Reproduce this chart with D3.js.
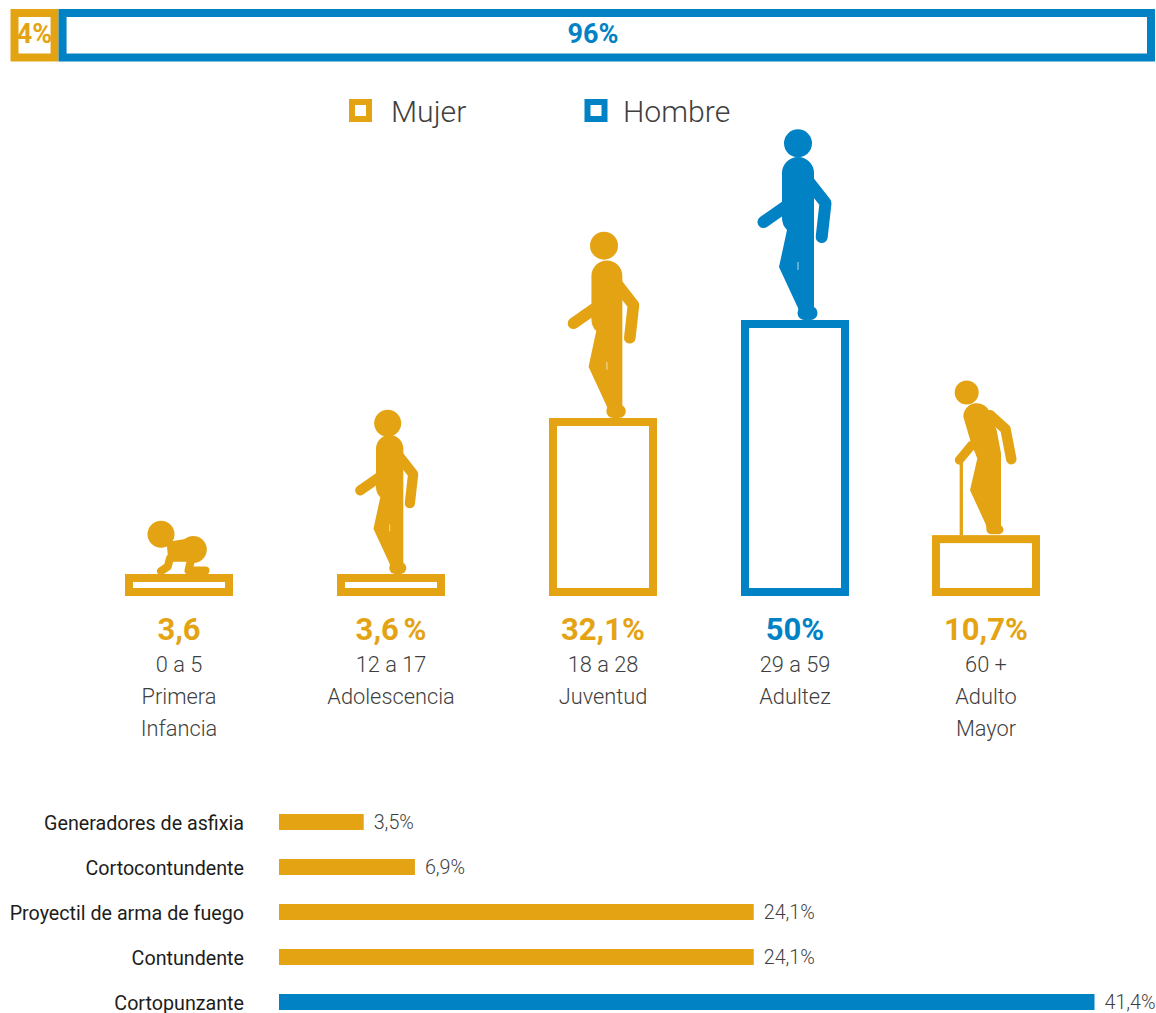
<!DOCTYPE html>
<html><head><meta charset="utf-8">
<script src="https://cdnjs.cloudflare.com/ajax/libs/d3/7.8.5/d3.min.js"></script>
<style>html,body{margin:0;padding:0;background:#fff}svg{display:block}text{font-family:Roboto,sans-serif}</style>
</head><body><svg id="c" width="1156" height="1013"></svg>
<script>
// ---- data ----
const sexLabels = ["Mujer","Hombre"];
const sexShares = [4.2,95.8];
const sexShareLabels = ["4%","96%"];
const ageGroups = ["0 a 5","12 a 17","18 a 28","29 a 59","60 +"];
const ageNames = [["Primera","Infancia"],["Adolescencia"],["Juventud"],["Adultez"],["Adulto","Mayor"]];
const ageValues = [3.6,3.6,32.1,50,10.7];
const ageValueLabels = ["3,6","3,6 %","32,1%","50%","10,7%"];
const ageSex = ["Mujer","Mujer","Mujer","Hombre","Mujer"];
const ageFigures = ["baby","walker","walker","walker","elder"];
const weaponNames = ["Generadores de asfixia","Cortocontundente","Proyectil de arma de fuego","Contundente","Cortopunzante"];
const weaponDrawn = [4.3,6.9,24.1,24.1,41.4];
const weaponLabels = ["3,5%","6,9%","24,1%","24,1%","41,4%"];
const weaponSex = ["Mujer","Mujer","Mujer","Mujer","Hombre"];

// ---- layout ----
const color = d3.scaleOrdinal(sexLabels,["#E4A313","#0082C4"]);
const svg = d3.select("#c");
const sw = 8;

// top share bar
const xShare = d3.scaleLinear([0,100],[10.5,1155]);
const shareLabelX = d3.scaleOrdinal(sexLabels,[34.5,593]);
let cum = 0;
const shareData = sexShares.map((v,i)=>{const d={v,i,a:cum,b:cum+v};cum+=v;return d;});
const gTop = svg.append("g");
gTop.selectAll("rect").data(shareData).join("rect")
 .attr("x",d=>xShare(d.a)+sw/2).attr("y",9+sw/2)
 .attr("width",d=>xShare(d.b)-xShare(d.a)-sw).attr("height",52.5-sw)
 .attr("fill","#fff").attr("stroke",d=>color(sexLabels[d.i])).attr("stroke-width",sw);
gTop.selectAll("text").data(shareData).join("text")
 .attr("x",d=>shareLabelX(sexLabels[d.i])).attr("y",43)
 .attr("text-anchor","middle").attr("font-weight",700).attr("font-size",27)
 .attr("fill",d=>color(sexLabels[d.i])).text(d=>sexShareLabels[d.i]);

// legend
const xLegend = d3.scaleOrdinal(sexLabels,[349,584.5]);
const xLegendText = d3.scaleOrdinal(sexLabels,[391,623]);
const gLegRoot = svg.append("g");
const gLeg = gLegRoot.selectAll("g").data(sexLabels).join("g");
gLeg.append("rect").attr("x",d=>xLegend(d)+3).attr("y",102).attr("width",17).attr("height",17)
 .attr("fill","#fff").attr("stroke",d=>color(d)).attr("stroke-width",6);
gLeg.append("text").attr("x",d=>xLegendText(d)).attr("y",122).attr("font-size",30.2).attr("font-weight",300)
 .attr("fill","#3f3f3f").text(d=>d);

// age bars
const ages = ageGroups.map((g,i)=>({g,i,v:ageValues[i],lab:ageValueLabels[i],names:ageNames[i],sex:ageSex[i],fig:ageFigures[i]}));
const xAge = d3.scaleOrdinal(ageGroups,[179,391,603,795,986]);
const yAge = d3.scaleLinear([0,50],[597.7,324]);
const barW = 100, baseY = 592;
const gAge = svg.append("g").selectAll("g").data(ages).join("g")
 .attr("transform",d=>`translate(${xAge(d.g)},0)`);
gAge.append("rect").attr("x",-barW/2).attr("width",barW)
 .attr("y",d=>yAge(d.v)).attr("height",d=>baseY-yAge(d.v))
 .attr("fill","#fff").attr("stroke",d=>color(d.sex)).attr("stroke-width",sw);

// figures: drawn in a local frame whose origin is the middle of the bar's top edge
const figs = {
 walker(g,c){
  g.append("path").attr("fill",c).attr("d","M-13,-147A16,16 0 0 1 19,-147L19,-10L19,-4L5,-4L3,-12L-16,-53L-8,-90Q-13,-95 -13,-102Z");
  g.append("path").attr("fill","none").attr("stroke",c).attr("stroke-width",14).attr("stroke-linecap","round")
   .attr("d","M9.5,-7L15.5,-7");
  g.append("path").attr("fill","none").attr("stroke",c).attr("stroke-width",12).attr("stroke-linecap","round").attr("stroke-linejoin","round")
   .attr("d","M14,-138L30.5,-117L26.7,-83");
  g.append("path").attr("fill","none").attr("stroke",c).attr("stroke-width",12).attr("stroke-linecap","round")
   .attr("d","M-31.5,-98L-10,-113");
  g.append("path").attr("stroke","#fff").attr("stroke-width",.7).attr("d","M3,-58V-50");
 },
 elder(g,c){
  g.append("circle").attr("cx",-19.3).attr("cy",-142.7).attr("r",12).attr("fill",c);
  g.append("path").attr("fill",c).attr("d","M-22.7,-118.3A13.6,13.6 0 0 1 4,-122L10.7,-105L15,-82L15,-8L15,-4L1,-4L-.3,-11L-16,-45L-8.7,-76.7L-15.3,-93.3Z");
  g.append("path").attr("fill","none").attr("stroke",c).attr("stroke-width",9).attr("stroke-linecap","round")
   .attr("d","M5,-5.5L13,-5.5");
  g.append("path").attr("fill","none").attr("stroke",c).attr("stroke-width",10.5).attr("stroke-linecap","round").attr("stroke-linejoin","round")
   .attr("d","M4,-120L19.5,-106L25.3,-76");
  g.append("path").attr("fill","none").attr("stroke",c).attr("stroke-width",9).attr("stroke-linecap","round")
   .attr("d","M-14.3,-90L-26.7,-75");
  g.append("path").attr("stroke",c).attr("stroke-width",3.3).attr("d","M-24.7,-75V0");
 },
 baby(g,c){
  g.append("circle").attr("cx",-18).attr("cy",-39.7).attr("r",13.5).attr("fill",c);
  g.append("circle").attr("cx",14.3).attr("cy",-24.5).attr("r",13.5).attr("fill",c);
  g.append("path").attr("fill",c).attr("stroke",c).attr("stroke-width",4).attr("stroke-linejoin","round")
   .attr("d","M-10.3,-30.3L11,-33.7L10.3,-14.3L-8.7,-14.3Z");
  g.append("path").attr("fill","none").attr("stroke",c).attr("stroke-width",8).attr("stroke-linecap","round").attr("stroke-linejoin","round")
   .attr("d","M-9,-15.7L-11.3,-7.3L-18,-2.8");
  g.append("path").attr("fill","none").attr("stroke",c).attr("stroke-width",8).attr("stroke-linecap","round").attr("stroke-linejoin","round")
   .attr("d","M12,-14L9.5,-3.5L26.5,-3.5");
 }
};
// per-figure fit: translate x, scale, head offset relative to the bar top
const figFit = {
 "12 a 17":{tx:-3.9,s:.853,hx:-3.3,hy:-150.7,r:13.5},
 "18 a 28":{tx:1,s:.966,hx:1,hy:-172.3,r:14},
 "29 a 59":{tx:0,s:1,hx:3,hy:-176.7,r:14}
};
gAge.each(function(d){
 const top = d3.select(this).append("g").attr("transform",`translate(0,${yAge(d.v)-sw/2})`);
 const fit = figFit[d.g];
 const f = top.append("g");
 if(fit) f.attr("transform",`translate(${fit.tx},0) scale(${fit.s})`);
 figs[d.fig](f,color(d.sex));
 if(fit) top.append("circle").attr("cx",fit.hx).attr("cy",fit.hy).attr("r",fit.r).attr("fill",color(d.sex));
});
gAge.append("text").attr("y",640).attr("text-anchor","middle").attr("font-size",31).attr("font-weight",700)
 .attr("word-spacing",-3).attr("fill",d=>color(d.sex)).text(d=>d.lab);
gAge.append("text").attr("y",671.5).attr("text-anchor","middle").attr("font-size",21.8).attr("font-weight",300)
 .attr("fill","#3f3f3f").text(d=>d.g);
gAge.selectAll(".n").data(d=>d.names.map((t,j)=>({t,j}))).join("text").attr("class","n")
 .attr("y",d=>703.5+32*d.j).attr("text-anchor","middle").attr("font-size",21.8).attr("font-weight",300)
 .attr("fill","#3f3f3f").text(d=>d.t);

// weapon bars
const weapons = weaponNames.map((n,i)=>({n,v:weaponDrawn[i],lab:weaponLabels[i],sex:weaponSex[i]}));
const xW = d3.scaleLinear([0,41.4],[279,1094.5]);
const yW = d3.scaleBand(weaponNames,[814,1010]).paddingInner(29/45).paddingOuter(0);
const gW = svg.append("g").selectAll("g").data(weapons).join("g");
gW.append("rect").attr("x",xW(0)).attr("y",d=>yW(d.n)).attr("width",d=>xW(d.v)-xW(0)).attr("height",yW.bandwidth())
 .attr("fill",d=>color(d.sex));
gW.append("text").attr("x",244).attr("y",d=>yW(d.n)+15.5).attr("text-anchor","end").attr("font-size",19.7)
 .attr("fill","#1d1d1b").text(d=>d.n);
gW.append("text").attr("x",d=>xW(d.v)+10).attr("y",d=>yW(d.n)+15).attr("font-size",19.7).attr("font-weight",300)
 .attr("fill","#3f3f3f").text(d=>d.lab);
</script></body></html>
